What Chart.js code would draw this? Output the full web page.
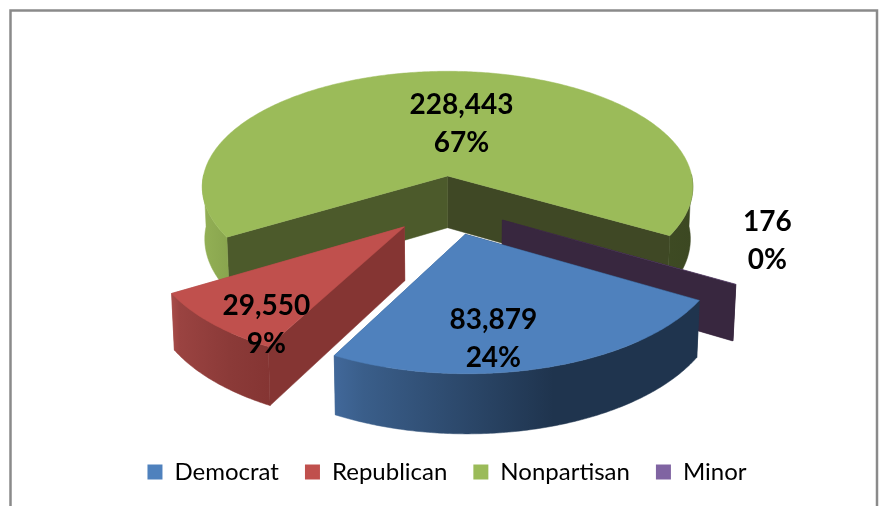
<!DOCTYPE html>
<html>
<head>
<meta charset="utf-8">
<style>
  html, body { margin: 0; padding: 0; background: #fff; }
  #wrap { width: 882px; height: 506px; }
</style>
<script src="https://cdn.jsdelivr.net/npm/chart.js@4/dist/chart.umd.min.js"></script>
</head>
<body>
<div id="wrap"><canvas id="pieChart" width="882" height="506"></canvas></div>
<script>
const categories = ["Democrat", "Republican", "Nonpartisan", "Minor"];
const votes = [83879, 29550, 228443, 176];
const voteLabels = ["83,879", "29,550", "228,443", "176"];
const percentLabels = ["24%", "9%", "67%", "0%"];
const sliceColors = ["#4F81BD", "#C0504D", "#9BBB59", "#8064A2"];

// shading of the fake 3d sides
const wallStops = [
  ["#41689a", "#3a5e8a", "#1f344e", "#1f344e"],
  ["#a84c49", "#9a4341", "#8b3a38", "#853533"],
  ["#93b055", "#84a04b", "#4a5a2b", "#3c4822"],
  ["#38273f", "#38273f", "#38273f", "#38273f"]
];
const cutColors = [
  ["#1f344e", "#3d628c"],
  ["#853533", "#a34a47"],
  ["#4c5a2b", "#3f4825"],
  ["#38273f", "#38273f"]
];
const drawOrder = [2, 3, 1, 0];
// label centre relative to the slice tip, in px
const labelShift = [[28, 105], [-138, 98], [14, -52], [265, 21]];

// view settings for the tilted pie
const view = { x: 448, y: 205, tilt: 0.48, eye: 2600, depth: 53, shrink: 0.99 };

function project(mx, my, z) {
  const s = 1 / (1 - my / view.eye);
  const k = z ? view.shrink : 1;
  return [view.x + mx * s * k, view.y + my * view.tilt * s + z * s];
}

function poly(ctx, pts, fill, seal) {
  ctx.beginPath();
  pts.forEach((p, i) => (i ? ctx.lineTo(p[0], p[1]) : ctx.moveTo(p[0], p[1])));
  ctx.closePath();
  ctx.fillStyle = fill;
  ctx.fill();
  if (seal) {
    ctx.strokeStyle = fill;
    ctx.lineWidth = 0.5;
    ctx.stroke();
  }
}

function drawSlice(ctx, arc, i) {
  const p = arc.getProps(["startAngle", "endAngle", "outerRadius"], true);
  const mid = (p.startAngle + p.endAngle) / 2;
  const ox = Math.cos(mid) * arc.options.offset;
  const oy = Math.sin(mid) * arc.options.offset;
  const steps = Math.max(2, Math.ceil((p.endAngle - p.startAngle) * 90));
  const rim = [];
  const angles = [];
  for (let n = 0; n <= steps; n++) {
    const a = p.startAngle + (p.endAngle - p.startAngle) * n / steps;
    angles.push(a);
    rim.push([ox + Math.cos(a) * p.outerRadius, oy + Math.sin(a) * p.outerRadius]);
  }
  const top = rim.map(m => project(m[0], m[1], 0));
  const bottom = rim.map(m => project(m[0], m[1], view.depth));
  const tipTop = project(ox, oy, 0);
  const tipBottom = project(ox, oy, view.depth);

  // the two cut faces, then the outer wall over them
  const last = rim.length - 1;
  poly(ctx, [tipTop, top[last], bottom[last], tipBottom], cutColors[i][1], true);
  poly(ctx, [tipTop, top[0], bottom[0], tipBottom], cutColors[i][0], true);

  const xs = top.map(t => t[0]);
  const grad = ctx.createLinearGradient(Math.min(...xs), 0, Math.max(...xs), 0);
  wallStops[i].forEach((c, n) => grad.addColorStop([0, 0.08, 0.6, 1][n], c));
  // only the front of the wall, the back part would bleed through the top's edge
  let run = [];
  const flush = () => {
    if (run.length > 1) {
      const upper = run.map(n => top[n]);
      const lower = run.map(n => bottom[n]).reverse();
      poly(ctx, upper.concat(lower), grad, true);
    }
    run = [];
  };
  angles.forEach((a, n) => {
    if (Math.sin(a) < -0.02) flush();
    else run.push(n);
  });
  flush();

  // the minor slice is a sliver, a stroke would make it look wider than it is
  poly(ctx, [tipTop].concat(top), sliceColors[i], steps > 2);
  return tipTop;
}

const pie3d = {
  id: "pie3d",
  beforeDraw(chart) {
    // frame around the chart, runs off the bottom of the picture
    const ctx = chart.ctx;
    ctx.save();
    ctx.strokeStyle = "#8a8a8a";
    ctx.lineWidth = 2.5;
    ctx.beginPath();
    ctx.moveTo(10.5, 506);
    ctx.lineTo(10.5, 10.5);
    ctx.lineTo(877, 10.5);
    ctx.lineTo(877, 506);
    ctx.stroke();
    ctx.restore();
  },
  beforeDatasetsDraw(chart) {
    const ctx = chart.ctx;
    const arcs = chart.getDatasetMeta(0).data;
    ctx.save();
    const tips = [];
    drawOrder.forEach(i => { tips[i] = drawSlice(ctx, arcs[i], i); });
    ctx.fillStyle = "#000";
    ctx.font = "bold 28px Lato";
    ctx.textAlign = "center";
    ctx.textBaseline = "middle";
    drawOrder.forEach(i => {
      const x = tips[i][0] + labelShift[i][0];
      const y = tips[i][1] + labelShift[i][1];
      ctx.fillText(voteLabels[i], x, y - 19);
      ctx.fillText(percentLabels[i], x, y + 19);
    });
    ctx.restore();
    return false;
  }
};

new Chart(document.getElementById("pieChart"), {
  type: "pie",
  data: {
    labels: categories,
    datasets: [{
      data: votes,
      backgroundColor: sliceColors,
      borderWidth: 0,
      offset: 62,
      radius: 250
    }]
  },
  options: {
    responsive: false,
    animation: false,
    events: [],
    rotation: 120,
    layout: { padding: { left: 12, bottom: 12 } },
    plugins: {
      tooltip: { enabled: false },
      legend: {
        position: "bottom",
        labels: {
          boxWidth: 15,
          boxHeight: 15,
          padding: 26,
          color: "#000",
          font: { family: "Lato", size: 24 }
        }
      }
    }
  },
  plugins: [pie3d]
});
</script>
</body>
</html>
